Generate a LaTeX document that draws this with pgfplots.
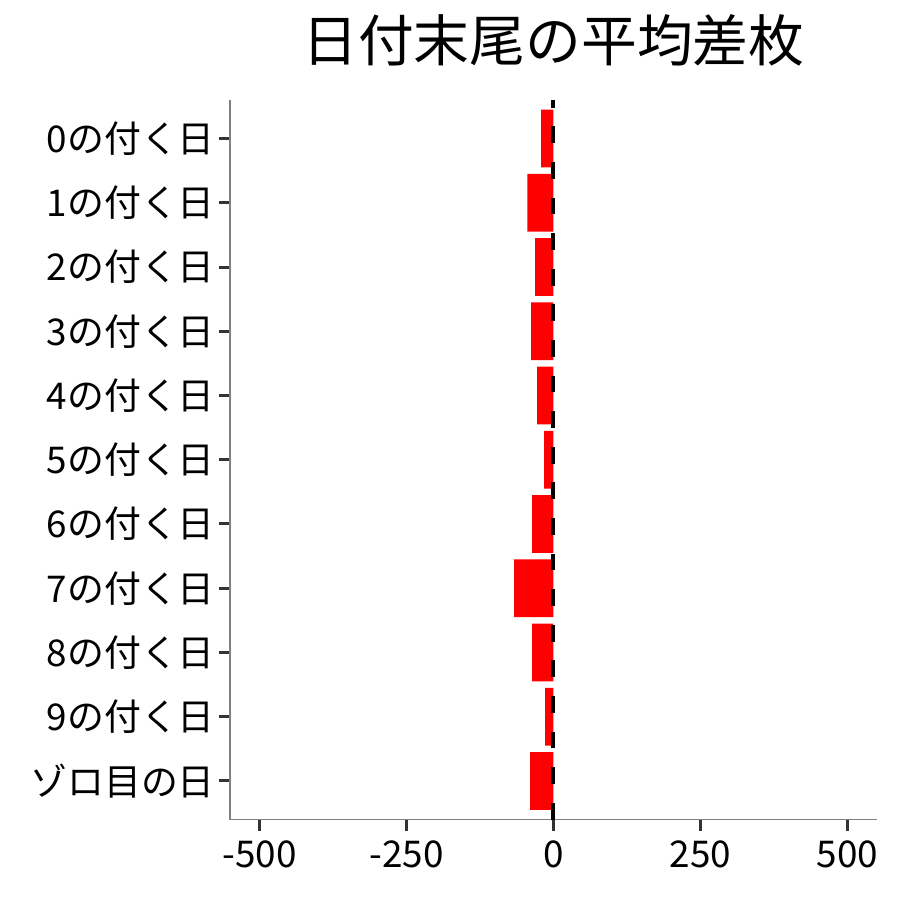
\documentclass[border=0pt]{standalone}
\usepackage{fontspec}
\setmainfont{Noto Sans CJK JP}
\usepackage{pgfplots}
\pgfplotsset{compat=1.18}
\begin{document}
\begin{tikzpicture}
\path[use as bounding box] (0bp,0bp) rectangle (900bp,900bp);
\begin{axis}[
at={(230bp,80.5bp)}, anchor=south west,
scale only axis,
width=646.7bp,
height=719.5bp,
xmin=-550, xmax=550,
ymin=-0.6, ymax=10.6,
y dir=reverse,
axis x line*=bottom,
axis y line*=left,
axis line style={-, black!50, line width=1.5bp},
xtick={-500,-250,0,250,500},
xticklabels={-500,-250,0,250,500},
ytick={0,...,10},
yticklabels={0の付く日,1の付く日,2の付く日,3の付く日,4の付く日,5の付く日,6の付く日,7の付く日,8の付く日,9の付く日,ゾロ目の日},
tick align=outside,
xtick pos=bottom,
ytick pos=left,
major tick length=11bp,
tick style={black!80, line width=3bp},
xticklabel style={font=\fontsize{37}{42}\selectfont, inner sep=0pt, yshift=-10bp},
yticklabel style={font=\fontsize{37}{42}\selectfont, inner sep=0pt, xshift=-4bp},
title={日付末尾の平均差枚},
title style={font=\fontsize{56}{64}\selectfont, at={(0.5,1)}, anchor=center, yshift=54bp},
]
\addplot[xbar, bar width=0.9, fill=red, draw=none]
coordinates {(-20.9,0) (-44.2,1) (-31.1,2) (-37.9,3) (-27.7,4) (-15.8,5) (-36.2,6) (-66.8,7) (-36.2,8) (-14.1,9) (-39.6,10)};
\addplot[black, line width=4bp, dash pattern=on 16.7bp off 18.9bp]
coordinates {(0,10.6) (0,-0.6)};
\end{axis}
\end{tikzpicture}
\end{document}
